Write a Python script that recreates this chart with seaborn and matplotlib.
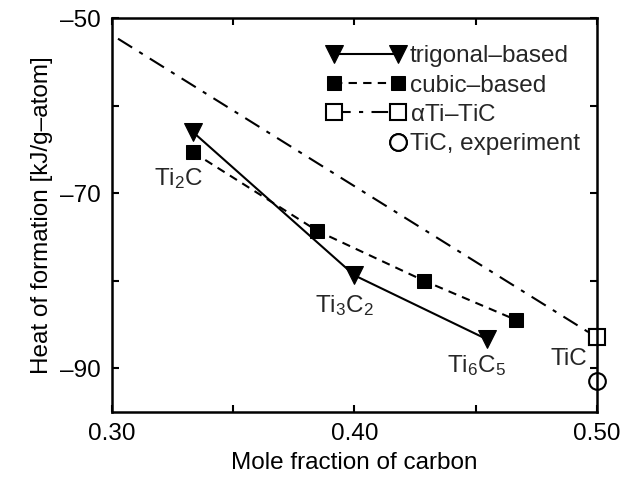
import numpy as np
import pandas as pd
import matplotlib
matplotlib.use("Agg")
import matplotlib.pyplot as plt
import seaborn as sns
from matplotlib.legend_handler import HandlerLine2D
from matplotlib.ticker import FuncFormatter, FixedLocator

# ---- data ----
trig_x = [1/3, 0.40, 5/11]
trig_y = [-63.0, -79.4, -86.7]
cubic_x = [1/3, 5/13, 3/7, 7/15]
cubic_y = [-65.3, -74.3, -80.0, -84.5]
ati_x = [0.0, 0.50]
ati_y = [0.0, -86.5]
exp_x = [0.50]
exp_y = [-91.5]
labels = ["Ti$_2$C", "Ti$_3$C$_2$", "Ti$_6$C$_5$", "TiC"]
xticks = [0.30, 0.40, 0.50]
yticks = [-90, -70, -50]

sns.set_theme(style="ticks")
plt.rcParams['font.family'] = ['Liberation Sans', 'DejaVu Sans']
plt.rcParams['mathtext.fontset'] = 'custom'
plt.rcParams['mathtext.rm'] = 'Liberation Sans'
plt.rcParams['mathtext.it'] = 'Liberation Serif:italic'
plt.rcParams['mathtext.default'] = 'regular'

FS = 17.5
fig = plt.figure(figsize=(6.23, 4.79), dpi=100)
ax = fig.add_axes([0.18, 0.1405, 0.778, 0.821])

tdf = pd.DataFrame({"x": trig_x, "y": trig_y})
cdf = pd.DataFrame({"x": cubic_x, "y": cubic_y})
adf = pd.DataFrame({"x": ati_x, "y": ati_y})
edf = pd.DataFrame({"x": exp_x, "y": exp_y})

sns.lineplot(data=tdf, x="x", y="y", ax=ax, color="black", lw=1.5,
             marker="v", markersize=13, markeredgecolor="black",
             label="trigonal\u2013based")
sns.lineplot(data=cdf, x="x", y="y", ax=ax, color="black", lw=1.5,
             linestyle=(0, (4, 3)), marker="s", markersize=10,
             markeredgecolor="black", label="cubic\u2013based")
sns.lineplot(data=adf, x="x", y="y", ax=ax, color="black", lw=1.5,
             linestyle=(0, (8, 4, 2, 4)), marker="s", markersize=11,
             markerfacecolor="white", markeredgecolor="black", markeredgewidth=1.5,
             label="$\\alpha$Ti\u2013TiC")
sns.lineplot(data=edf, x="x", y="y", ax=ax, color="black", lw=0,
             linestyle="none", marker="o", markersize=12,
             markerfacecolor="white", markeredgecolor="black", markeredgewidth=1.5,
             label="TiC, experiment")
# unclipped end marker of the alpha-Ti line at the right spine
sns.lineplot(data=adf.iloc[[1]], x="x", y="y", ax=ax, color="black", lw=0,
             linestyle="none", marker="s", markersize=11,
             markerfacecolor="white", markeredgecolor="black", markeredgewidth=1.5,
             legend=False)
ax.lines[-1].set_clip_on(False)
ax.lines[3].set_clip_on(False)

ax.set_xlim(0.30, 0.50)
ax.set_ylim(-95, -50)
ax.xaxis.set_major_locator(FixedLocator(xticks))
ax.xaxis.set_minor_locator(FixedLocator([0.35, 0.45]))
ax.yaxis.set_major_locator(FixedLocator(yticks))
ax.yaxis.set_minor_locator(FixedLocator([-80, -60]))
ax.yaxis.set_major_formatter(FuncFormatter(lambda v, p: f"{v:.0f}".replace("-", "\u2013")))
ax.xaxis.set_major_formatter(FuncFormatter(lambda v, p: f"{v:.2f}"))
ax.tick_params(which="both", direction="in", top=True, right=True,
               length=5, width=1.5, labelsize=FS, color="black", labelcolor="black", pad=8)
for s in ax.spines.values():
    s.set_linewidth(1.8)
    s.set_color("black")

ax.set_xlabel("Mole fraction of carbon", fontsize=FS, color="black", labelpad=5)
ax.set_ylabel("Heat of formation [kJ/g\u2013atom]", fontsize=FS, color="black", labelpad=5)

# annotations
ax.text(0.3273, -69.1, labels[0], ha="center", va="baseline", fontsize=FS)
ax.text(0.3959, -83.6, labels[1], ha="center", va="baseline", fontsize=FS)
ax.text(0.4503, -90.5, labels[2], ha="center", va="baseline", fontsize=FS)
ax.text(0.4959, -89.6, labels[3], ha="right", va="baseline", fontsize=FS)


class RightEndHandler(HandlerLine2D):
    def get_xdata(self, legend, xdescent, ydescent, width, height, fontsize):
        x = -xdescent + width - 0.3 * fontsize
        return np.array([x, x]), np.array([x, x])


handles, labs = ax.get_legend_handles_labels()
handler_map = {handles[3]: RightEndHandler(numpoints=2)}
leg = ax.legend(handles, labs, loc="upper right", frameon=False, fontsize=FS,
                numpoints=2, handlelength=3.2, handletextpad=0.2,
                labelspacing=0.3, borderaxespad=0.3, handler_map=handler_map,
                bbox_to_anchor=(1.0, 0.975))

fig.savefig("out.png", dpi=100)
